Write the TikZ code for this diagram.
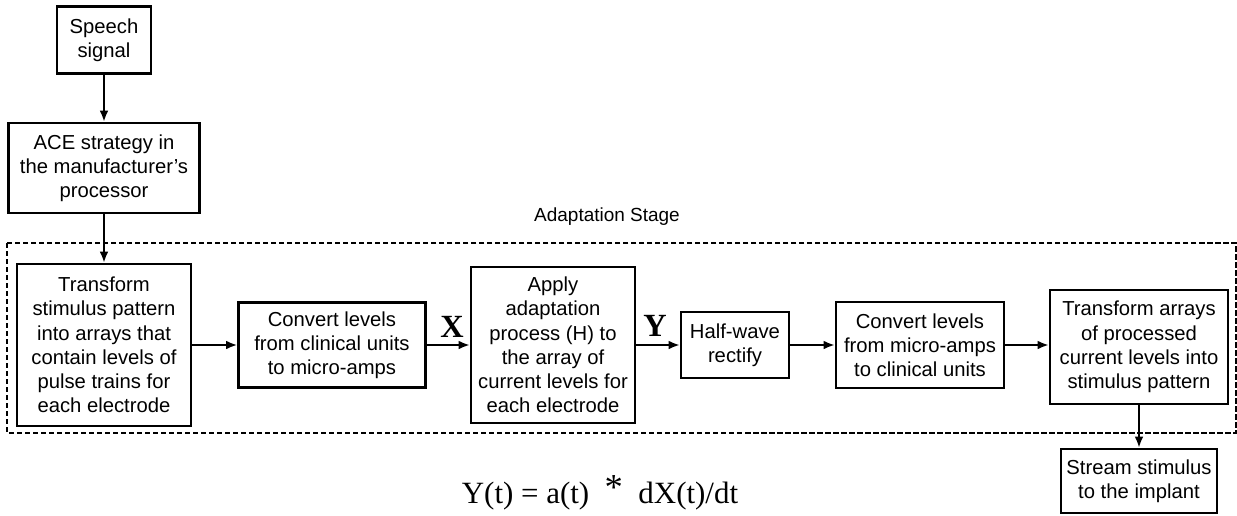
\documentclass[tikz,border=0pt]{standalone}
\usepackage{fontspec}
\setmainfont{Liberation Sans}
\newfontfamily\eqfont{Liberation Serif}
\usetikzlibrary{arrows.meta}

\tikzset{
	blk/.style={draw, line width=1.7pt, align=center, inner sep=0pt, font=\fontsize{14.4}{17.2}\selectfont},
	arr/.style={line width=1.5pt, -{Latex[length=0.28cm, width=0.22cm]}},
	sig/.style={font=\eqfont\bfseries\fontsize{23}{24}\selectfont, inner sep=0pt}
}

\begin{document}
\begin{tikzpicture}[x=0.025cm, y=-0.025cm, line join=miter]
	\useasboundingbox (0,0) rectangle (1237,515);

	% Khung giai đoạn thích nghi
	\draw[line width=1.3pt, dash pattern=on 0.13cm off 0.07cm] (7,243) rectangle (1236,433);
	\node[font=\fontsize{13.5}{15}\selectfont] (stage) at (607,217) {Adaptation Stage};

	% Đầu vào
	\node[blk, minimum width=2.35cm, minimum height=1.675cm] (speech) at (104,40) {Speech\\signal};
	\node[blk, minimum width=4.775cm, minimum height=2.25cm] (ace) at (104,168) {ACE strategy in\\the manufacturer's\\processor};

	% Các khối trong giai đoạn
	\node[blk, minimum width=4.35cm, minimum height=4.05cm] (trans) at (104,345) {Transform\\stimulus pattern\\into arrays that\\contain levels of\\pulse trains for\\each electrode};
	\node[blk, minimum width=4.675cm, minimum height=2.125cm] (convA) at (332,345) {Convert levels\\from clinical units\\to micro-amps};
	\node[blk, minimum width=4.1cm, minimum height=3.9cm] (apply) at (553,345) {Apply\\adaptation\\process (H) to\\the array of\\current levels for\\each electrode};
	\node[blk, minimum width=2.7cm, minimum height=1.65cm] (half) at (735,345) {Half-wave\\rectify};
	\node[blk, minimum width=4.2cm, minimum height=2.15cm] (convB) at (920,345) {Convert levels\\from micro-amps\\to clinical units};
	\node[blk, minimum width=4.45cm, minimum height=2.85cm] (transB) at (1139,347) {Transform arrays\\of processed\\current levels into\\stimulus pattern};

	% Đầu ra
	\node[blk, minimum width=3.9cm, minimum height=1.6cm] (stream) at (1139,481) {Stream stimulus\\to the implant};

	% Nhãn tín hiệu
	\node[sig] (lblX) at (452,327) {X};
	\node[sig] (lblY) at (655,326) {Y};

	% Công thức
	\node[font=\eqfont\fontsize{22}{24}\selectfont, inner sep=0pt] (eq) at (600,493) {Y(t) = a(t) \ \raisebox{3pt}{\fontsize{26}{24}\selectfont *}\ \ dX(t)/dt};

	% Mũi tên
	\draw[arr] (speech) -- (ace);
	\draw[arr] (ace) -- (trans);
	\draw[arr] (trans) -- (convA);
	\draw[arr] (convA) -- (apply);
	\draw[arr] (apply) -- (half);
	\draw[arr] (half) -- (convB);
	\draw[arr] (convB) -- (transB.west |- convB);
	\draw[arr] (transB) -- (stream);
\end{tikzpicture}
\end{document}
